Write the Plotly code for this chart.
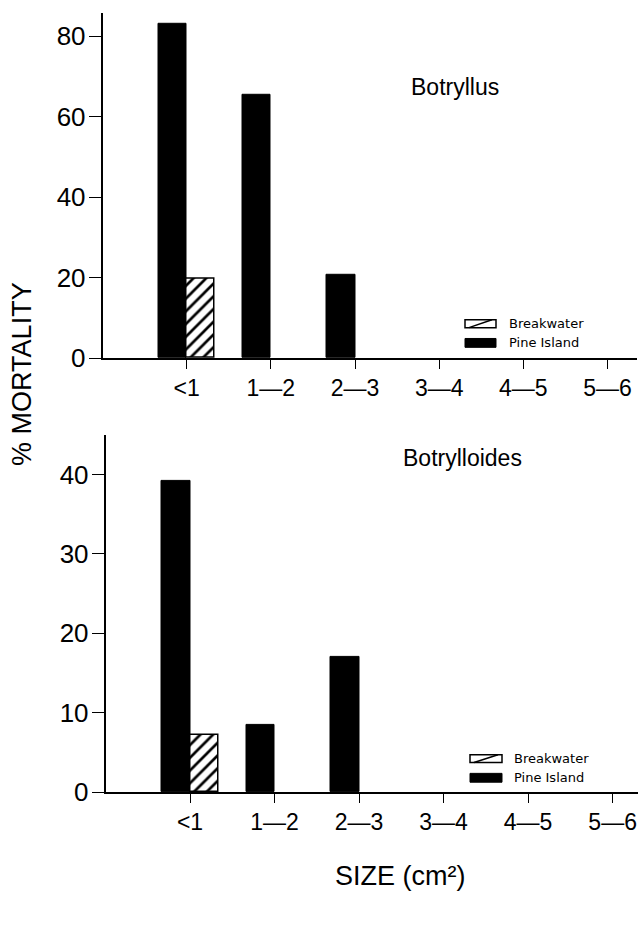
import plotly.graph_objects as go

# Size classes (cm^2) and percent mortality by site
size_classes = ["<1", "1—2", "2—3", "3—4", "4—5", "5—6"]
class_pos = [1, 2, 3, 4, 5, 6]

botryllus_pine = [83, 65.5, 20.8, 0, 0, 0]
botryllus_breakwater = [19.8, 0, 0, 0, 0, 0]

botrylloides_pine = [39.2, 8.5, 17.0, 0, 0, 0]
botrylloides_breakwater = [7.2, 0, 0, 0, 0, 0]

W, H = 640, 933
FONT = "Liberation Sans"


def px(x):
    return x / W


def py(y):
    return 1 - y / H


def outline(values, w):
    # no outline on empty classes so nothing is drawn over the axis
    return [w if v > 0 else 0 for v in values]


fig = go.Figure()

bar_w = 1 / 3
panels = [
    ("x", "y", botryllus_pine, botryllus_breakwater),
    ("x2", "y2", botrylloides_pine, botrylloides_breakwater),
]
for xa, ya, pine, bw in panels:
    fig.add_trace(go.Bar(
        x=class_pos, y=pine, width=bar_w, offset=-bar_w,
        marker=dict(color="black",
                    line=dict(color="black", width=outline(pine, 1))),
        name="Pine Island", xaxis=xa, yaxis=ya, showlegend=False,
    ))
    fig.add_trace(go.Bar(
        x=class_pos, y=bw, width=bar_w, offset=0,
        marker=dict(
            color="white",
            line=dict(color="black", width=outline(bw, 1.5)),
            pattern=dict(shape="/", fgcolor="black", bgcolor="white",
                         fgopacity=1, size=9, solidity=0.3),
        ),
        name="Breakwater", xaxis=xa, yaxis=ya, showlegend=False,
    ))

axis_common = dict(
    showline=True, linecolor="black", linewidth=1.5,
    ticks="outside", tickcolor="black", tickwidth=1.2,
    showgrid=False, zeroline=False,
)
xtick_font = dict(family=FONT, size=23, color="black")
ytick_font = dict(family=FONT, size=26, color="black")

fig.update_layout(
    width=W, height=H,
    margin=dict(l=0, r=0, t=0, b=0),
    paper_bgcolor="white", plot_bgcolor="white",
    barmode="overlay", bargap=0,
    showlegend=False,
    xaxis=dict(domain=[px(102.5), px(637)], range=[0, 6.35],
               tickvals=class_pos, ticktext=size_classes, ticklen=9,
               tickfont=xtick_font, anchor="y", **axis_common),
    yaxis=dict(domain=[py(364), py(13)], range=[0, 85.8],
               tickvals=[0, 20, 40, 60, 80], ticklen=12,
               ticklabelstandoff=-2,
               tickfont=ytick_font, anchor="x", **axis_common),
    xaxis2=dict(domain=[px(105.5), px(638)], range=[0, 6.3],
                tickvals=class_pos, ticktext=size_classes, ticklen=9,
                tickfont=xtick_font, anchor="y2", **axis_common),
    yaxis2=dict(domain=[py(805), py(442)], range=[0, 45],
                tickvals=[0, 10, 20, 30, 40], ticklen=12,
                ticklabelstandoff=-2,
                tickfont=ytick_font, anchor="x2", **axis_common),
)

annotations = [
    dict(text="Botryllus", x=px(455), y=py(88), font=dict(size=23)),
    dict(text="Botrylloides", x=px(462), y=py(465), font=dict(size=23)),
    dict(text="% MORTALITY", x=px(22), y=py(380), textangle=-90,
         font=dict(size=27)),
    dict(text="SIZE (cm²)", x=px(400), y=py(890), font=dict(size=27)),
]

# Legend keys drawn inside each panel
shapes = []
for (sx0, sx1, bw_top, pine_top, tx) in [(465, 496, 325, 344, 507),
                                          (470, 502, 767, 786, 512)]:
    shapes.append(dict(type="rect", xref="paper", yref="paper",
                       x0=px(sx0), x1=px(sx1), y0=py(bw_top + 8), y1=py(bw_top),
                       line=dict(color="black", width=1.5), fillcolor="white"))
    shapes.append(dict(type="line", xref="paper", yref="paper",
                       x0=px(sx0 + 4), x1=px(sx1 - 4), y0=py(bw_top + 8), y1=py(bw_top),
                       line=dict(color="black", width=1.5)))
    shapes.append(dict(type="rect", xref="paper", yref="paper",
                       x0=px(sx0), x1=px(sx1), y0=py(pine_top + 9), y1=py(pine_top),
                       line=dict(color="black", width=1), fillcolor="black"))
    annotations.append(dict(text="Breakwater", x=px(tx), y=py(bw_top + 4),
                            xanchor="left", font=dict(size=13, family="DejaVu Sans")))
    annotations.append(dict(text="Pine Island", x=px(tx), y=py(pine_top + 4.5),
                            xanchor="left", font=dict(size=13, family="DejaVu Sans")))

for a in annotations:
    a.setdefault("xref", "paper")
    a.setdefault("yref", "paper")
    a.setdefault("showarrow", False)
    a.setdefault("xanchor", "center")
    a.setdefault("yanchor", "middle")
    f = a["font"]
    f.setdefault("family", FONT)
    f.setdefault("color", "black")

fig.update_layout(annotations=annotations, shapes=shapes)

fig.write_html("out.html")
